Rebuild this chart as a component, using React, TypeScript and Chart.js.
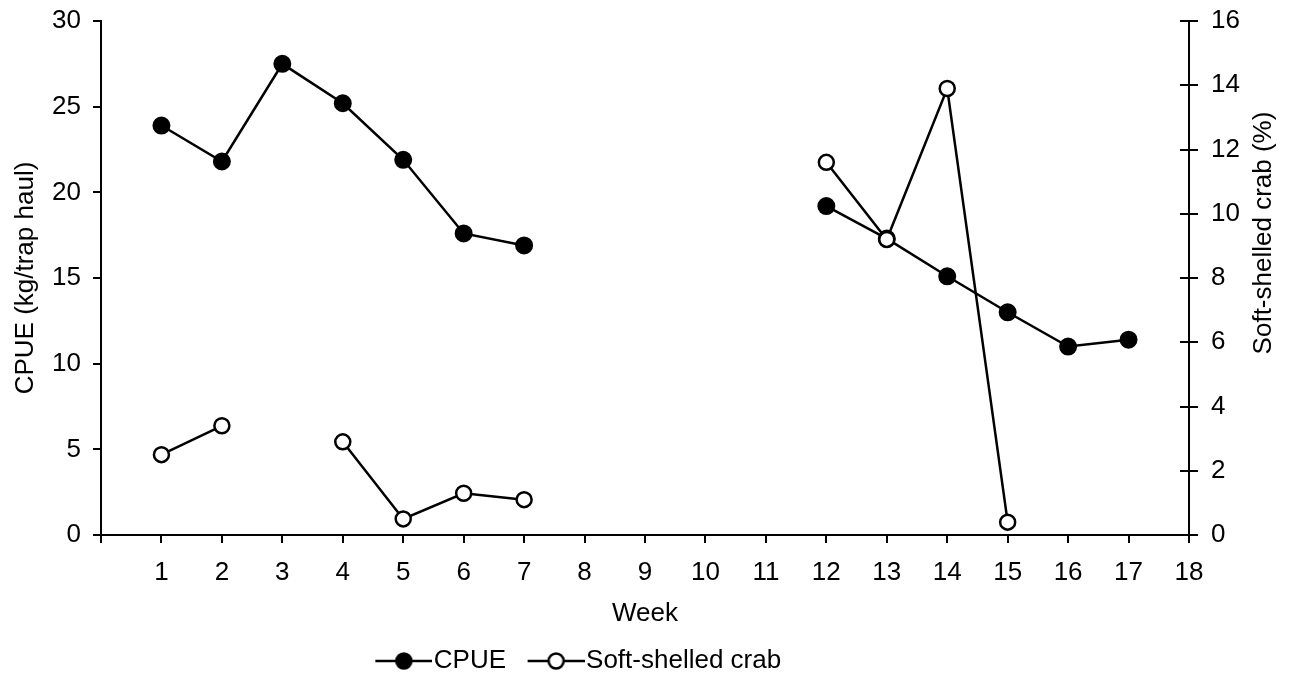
import React, { useEffect, useRef } from "react";
import { Chart, registerables } from "chart.js";

Chart.register(...registerables);

const weeks = [1, 2, 3, 4, 5, 6, 7, 8, 9, 10, 11, 12, 13, 14, 15, 16, 17];
const cpue = [23.9, 21.8, 27.5, 25.2, 21.9, 17.6, 16.9, null, null, null, null, 19.2, 17.3, 15.1, 13.0, 11.0, 11.4];
const softShelled = [2.5, 3.4, null, 2.9, 0.5, 1.3, 1.1, null, null, null, null, 11.6, 9.2, 13.9, 0.4, null, null];
const seriesNames = ["CPUE", "Soft-shelled crab"];
const xTitle = "Week";
const yLeftTitle = "CPUE (kg/trap haul)";
const yRightTitle = "Soft-shelled crab (%)";

const FONT = { family: "'Liberation Sans', Arial, sans-serif", size: 26 };

function makeIcon(filled: boolean) {
  const c = document.createElement("canvas");
  c.width = 80;
  c.height = 22;
  const ctx = c.getContext("2d")!;
  ctx.strokeStyle = "#000";
  ctx.lineWidth = 2.5;
  ctx.beginPath();
  ctx.moveTo(23, 11);
  ctx.lineTo(80, 11);
  ctx.stroke();
  ctx.beginPath();
  ctx.arc(51.5, 11, 7.5, 0, Math.PI * 2);
  ctx.fillStyle = filled ? "#000" : "#fff";
  ctx.fill();
  ctx.stroke();
  return c;
}

export default function App() {
  const ref = useRef<HTMLCanvasElement>(null);
  useEffect(() => {
    if (!ref.current) return;
    const icons = [makeIcon(true), makeIcon(false)];
    const toXY = (arr: (number | null)[]) => weeks.map((w, i) => ({ x: w, y: arr[i] }));

    const tweaks = {
      id: "tweaks",
      afterLayout(chart: any) {
        const lg = chart.legend;
        if (lg) {
          lg.left -= 72;
          lg.right -= 72;
          lg.top += 3;
          lg.bottom += 3;
        }
      },
      afterDraw(chart: any) {
        const ctx = chart.ctx;
        const s = chart.scales.y1;
        const ca = chart.chartArea;
        ctx.save();
        ctx.strokeStyle = "#000";
        ctx.lineWidth = 2;
        s.ticks.forEach((t: any) => {
          const py = Math.round(s.getPixelForValue(t.value));
          ctx.beginPath();
          ctx.moveTo(ca.right - 9, py);
          ctx.lineTo(ca.right, py);
          ctx.stroke();
        });
        ctx.fillStyle = "#000";
        ctx.font = `${FONT.size}px ${FONT.family}`;
        ctx.textAlign = "center";
        ctx.textBaseline = "middle";
        ctx.translate(1264, 233);
        ctx.rotate(-Math.PI / 2);
        ctx.fillText(yRightTitle, 0, 0);
        ctx.restore();
      },
    };

    const noPad = (s: any) => {
      s.paddingTop = 0;
      s.paddingBottom = 0;
    };

    const chart = new Chart(ref.current, {
      type: "line",
      data: {
        datasets: [
          {
            label: seriesNames[0],
            data: toXY(cpue),
            yAxisID: "y",
            borderColor: "#000",
            borderWidth: 2.5,
            backgroundColor: "#000",
            pointBackgroundColor: "#000",
            pointBorderColor: "#000",
            pointRadius: 8,
            pointBorderWidth: 2,
            spanGaps: false,
            order: 1,
          },
          {
            label: seriesNames[1],
            data: toXY(softShelled),
            yAxisID: "y1",
            borderColor: "#000",
            borderWidth: 2.5,
            backgroundColor: "#fff",
            pointBackgroundColor: "#fff",
            pointBorderColor: "#000",
            pointRadius: 7.5,
            pointBorderWidth: 2.5,
            spanGaps: false,
            order: 0,
          },
        ],
      },
      options: {
        animation: false,
        responsive: true,
        maintainAspectRatio: false,
        layout: { padding: { left: 0, right: 0, top: 21, bottom: 0 } },
        plugins: {
          tooltip: { enabled: false },
          legend: {
            display: true,
            position: "bottom",
            labels: {
              usePointStyle: true,
              pointStyleWidth: 57,
              padding: 10,
              color: "#000",
              font: FONT,
              generateLabels: (c: any) => {
                const items = (Chart.defaults.plugins.legend.labels as any).generateLabels(c);
                items.sort((a: any, b: any) => a.datasetIndex - b.datasetIndex);
                return items.map((it: any) => ({ ...it, pointStyle: icons[it.datasetIndex] }));
              },
            },
          },
        },
        scales: {
          x: {
            type: "linear",
            position: "bottom",
            min: 0,
            max: 18,
            ticks: {
              stepSize: 1,
              autoSkip: false,
              maxRotation: 0,
              padding: 14,
              color: "#000",
              font: FONT,
              callback: (v: any) => (v === 0 ? "" : String(v)),
            },
            grid: { drawOnChartArea: false, tickLength: 8, color: "#000", lineWidth: 2 },
            border: { color: "#000", width: 2 },
            title: { display: true, text: xTitle, color: "#000", font: FONT, padding: { top: 0, bottom: 6 } },
            afterFit: (s: any) => {
              s.height = 100;
            },
          },
          y: {
            type: "linear",
            position: "left",
            min: 0,
            max: 30,
            ticks: { stepSize: 5, padding: 12, color: "#000", font: FONT },
            grid: { drawOnChartArea: false, tickLength: 8, color: "#000", lineWidth: 2 },
            border: { color: "#000", width: 2 },
            title: { display: true, text: yLeftTitle, color: "#000", font: FONT, padding: { top: 10, bottom: 0 } },
            afterFit: (s: any) => {
              s.width = 101;
              noPad(s);
            },
          },
          y1: {
            type: "linear",
            position: "right",
            min: 0,
            max: 16,
            ticks: { stepSize: 2, padding: 13, color: "#000", font: FONT },
            grid: { drawOnChartArea: false, tickLength: 9, color: "#000", lineWidth: 2 },
            border: { color: "#000", width: 2 },
            afterFit: (s: any) => {
              s.width = 100;
              noPad(s);
            },
          },
        },
      },
      plugins: [tweaks],
    } as any);
    return () => chart.destroy();
  }, []);

  return (
    <div style={{ position: "fixed", left: 0, top: 0, width: 1289, height: 681, background: "#fff" }}>
      <canvas ref={ref} />
    </div>
  );
}
